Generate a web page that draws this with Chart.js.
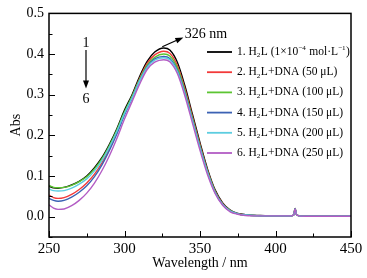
<!DOCTYPE html>
<html>
<head>
<meta charset="utf-8">
<script src="https://cdn.jsdelivr.net/npm/chart.js@4.4.0/dist/chart.umd.min.js"></script>
<style>
  html, body { margin: 0; padding: 0; background: #fff; }
  #wrap { width: 367px; height: 278px; }
</style>
</head>
<body>
<div id="wrap"><canvas id="chartCanva" width="367" height="278"></canvas></div>
<script>
// wavelength (nm) shared by all spectra
const wavelengths = [250,253,256,260,265,270,275,280,285,290,295,300,305,310,315,320,326,330,335,340,345,350,355,360,365,370,375,380,390,400,410,412,413,414,420,450];

const s1 = [0.075,0.071,0.070,0.072,0.078,0.087,0.100,0.120,0.145,0.178,0.217,0.262,0.300,0.345,0.382,0.405,0.415,0.410,0.380,0.322,0.252,0.182,0.117,0.066,0.034,0.016,0.008,0.005,0.003,0.002,0.002,0.004,0.020,0.004,0.001,0.001];
const s2 = [0.053,0.047,0.045,0.047,0.055,0.067,0.083,0.104,0.132,0.167,0.208,0.254,0.295,0.340,0.377,0.398,0.407,0.402,0.372,0.315,0.246,0.177,0.113,0.063,0.032,0.015,0.007,0.004,0.002,0.002,0.002,0.004,0.019,0.004,0.001,0.001];
const s3 = [0.077,0.072,0.071,0.072,0.077,0.086,0.098,0.117,0.142,0.175,0.214,0.258,0.296,0.338,0.373,0.392,0.400,0.395,0.366,0.310,0.242,0.174,0.111,0.062,0.031,0.015,0.007,0.004,0.002,0.002,0.002,0.004,0.019,0.004,0.001,0.001];
const s4 = [0.045,0.040,0.038,0.040,0.048,0.060,0.076,0.098,0.127,0.163,0.204,0.250,0.291,0.334,0.369,0.388,0.394,0.389,0.360,0.305,0.238,0.171,0.109,0.060,0.030,0.014,0.007,0.004,0.002,0.002,0.002,0.004,0.019,0.004,0.001,0.001];
const s5 = [0.068,0.064,0.063,0.064,0.070,0.080,0.093,0.112,0.138,0.171,0.210,0.254,0.292,0.334,0.367,0.385,0.391,0.386,0.357,0.302,0.236,0.169,0.108,0.059,0.030,0.014,0.007,0.004,0.002,0.002,0.002,0.004,0.019,0.004,0.001,0.001];
const s6 = [0.029,0.021,0.018,0.019,0.027,0.040,0.058,0.082,0.113,0.150,0.193,0.240,0.283,0.326,0.362,0.380,0.386,0.381,0.352,0.297,0.230,0.163,0.103,0.057,0.028,0.012,0.006,0.003,0.002,0.002,0.002,0.004,0.019,0.004,0.001,0.001];

// legend text, _x = subscript, ^{..} = superscript
const seriesLabels = [
  "1. H_2L (1×10^{−4} mol·L^{−1})",
  "2. H_2L+DNA (50 μL)",
  "3. H_2L+DNA (100 μL)",
  "4. H_2L+DNA (150 μL)",
  "5. H_2L+DNA (200 μL)",
  "6. H_2L+DNA (250 μL)"
];
const seriesColors = ["#000000", "#f23a3a", "#5cc532", "#3c62b4", "#5ccde0", "#b35cc4"];

const xTicks = [250, 300, 350, 400, 450];
const yTicks = [0.0, 0.1, 0.2, 0.3, 0.4, 0.5];

const serif = "'Liberation Serif','Times New Roman',serif";

function parseRich(str) {
  const parts = [];
  let i = 0, buf = "";
  while (i < str.length) {
    const c = str[i];
    if (c === "_" || c === "^") {
      if (buf) { parts.push({ t: buf }); buf = ""; }
      let txt;
      if (str[i + 1] === "{") {
        const end = str.indexOf("}", i);
        txt = str.slice(i + 2, end);
        i = end + 1;
      } else {
        txt = str[i + 1];
        i += 2;
      }
      parts.push({ t: txt, sub: c === "_", sup: c === "^" });
      continue;
    }
    buf += c;
    i++;
  }
  if (buf) parts.push({ t: buf });
  return parts;
}

function drawRich(ctx, str, x, y, size) {
  let cx = x;
  parseRich(str).forEach(p => {
    if (p.sub || p.sup) {
      ctx.font = (size * 0.62) + "px " + serif;
      ctx.fillText(p.t, cx, y + (p.sub ? size * 0.3 : -size * 0.35));
      cx += ctx.measureText(p.t).width + 0.5;
    } else {
      ctx.font = size + "px " + serif;
      ctx.fillText(p.t, cx, y);
      cx += ctx.measureText(p.t).width;
    }
  });
}

function arrow(ctx, x1, y1, x2, y2) {
  const a = Math.atan2(y2 - y1, x2 - x1);
  ctx.beginPath();
  ctx.moveTo(x1, y1);
  ctx.lineTo(x2 - 6 * Math.cos(a), y2 - 6 * Math.sin(a));
  ctx.stroke();
  ctx.beginPath();
  ctx.moveTo(x2, y2);
  ctx.lineTo(x2 - 8 * Math.cos(a) + 3 * Math.sin(a), y2 - 8 * Math.sin(a) - 3 * Math.cos(a));
  ctx.lineTo(x2 - 8 * Math.cos(a) - 3 * Math.sin(a), y2 - 8 * Math.sin(a) + 3 * Math.cos(a));
  ctx.closePath();
  ctx.fill();
}

const decor = {
  id: "decor",
  afterDraw(chart) {
    const ctx = chart.ctx;
    const a = chart.chartArea;
    const xs = chart.scales.x, ys = chart.scales.y;
    ctx.save();
    ctx.strokeStyle = "#000";
    ctx.fillStyle = "#000";

    // frame
    ctx.lineWidth = 1.5;
    ctx.strokeRect(a.left, a.top, a.right - a.left, a.bottom - a.top);

    // inward ticks
    ctx.lineWidth = 1;
    ctx.beginPath();
    for (let v = 250; v <= 450; v += 25) {
      const px = Math.round(xs.getPixelForValue(v)) + 0.5;
      const len = v % 50 === 0 ? 6 : 3.5;
      ctx.moveTo(px, a.bottom);
      ctx.lineTo(px, a.bottom - len);
    }
    for (let k = -1; k <= 10; k++) {
      const v = k * 0.05;
      const py = Math.round(ys.getPixelForValue(v)) + 0.5;
      const len = k % 2 === 0 ? 6 : 3.5;
      ctx.moveTo(a.left, py);
      ctx.lineTo(a.left + len, py);
    }
    ctx.stroke();

    // axis titles
    ctx.font = "14px " + serif;
    ctx.textAlign = "center";
    ctx.textBaseline = "middle";
    ctx.fillText("Wavelength / nm", (a.left + a.right) / 2, 263);
    ctx.save();
    ctx.translate(16, (a.top + a.bottom) / 2);
    ctx.rotate(-Math.PI / 2);
    ctx.fillText("Abs", 0, 0);
    ctx.restore();

    // peak label
    ctx.font = "14px " + serif;
    ctx.fillText("326 nm", xs.getPixelForValue(354), ys.getPixelForValue(0.449));
    ctx.lineWidth = 1.2;
    arrow(ctx, xs.getPixelForValue(325), ys.getPixelForValue(0.418),
               xs.getPixelForValue(339), ys.getPixelForValue(0.441));

    // 1 -> 6 arrow
    const ax = xs.getPixelForValue(274.5);
    ctx.fillText("1", ax, ys.getPixelForValue(0.427));
    arrow(ctx, ax, ys.getPixelForValue(0.41), ax, ys.getPixelForValue(0.315));
    ctx.fillText("6", ax, ys.getPixelForValue(0.288));

    // legend
    ctx.textAlign = "left";
    ctx.textBaseline = "middle";
    seriesLabels.forEach((lab, i) => {
      const ly = 52 + i * 20.2;
      ctx.strokeStyle = seriesColors[i];
      ctx.lineWidth = 1.8;
      ctx.beginPath();
      ctx.moveTo(207, ly);
      ctx.lineTo(232, ly);
      ctx.stroke();
      ctx.fillStyle = "#000";
      drawRich(ctx, lab, 237, ly, 11.5);
    });
    ctx.restore();
  }
};

const allSeries = [s1, s2, s3, s4, s5, s6];

const data = {
  datasets: allSeries.map((vals, i) => ({
    label: seriesLabels[i],
    data: wavelengths.map((w, j) => ({ x: w, y: vals[j] })),
    borderColor: seriesColors[i],
    borderWidth: 1.4,
    pointRadius: 0,
    cubicInterpolationMode: "monotone",
    fill: false,
    order: 6 - i
  }))
};

const config = {
  type: "line",
  data: data,
  options: {
    responsive: false,
    animation: false,
    layout: { padding: { top: 12, right: 16, left: 0, bottom: 0 } },
    plugins: { legend: { display: false }, tooltip: { enabled: false } },
    scales: {
      x: {
        type: "linear",
        min: 250, max: 450,
        grid: { display: false, drawTicks: false },
        border: { display: false },
        afterBuildTicks: s => { s.ticks = xTicks.map(v => ({ value: v })); },
        afterFit: s => { s.height = 41; },
        ticks: { color: "#000", padding: 3, maxRotation: 0, font: { family: serif, size: 15 } }
      },
      y: {
        min: -0.05, max: 0.5,
        grid: { display: false, drawTicks: false },
        border: { display: false },
        afterBuildTicks: s => { s.ticks = yTicks.map(v => ({ value: v })); },
        afterFit: s => { s.width = 49; },
        ticks: { color: "#000", padding: 5, font: { family: serif, size: 14 },
                 callback: v => v.toFixed(1) }
      }
    }
  },
  plugins: [decor]
};

const myChart = new Chart(document.getElementById("chartCanva"), config);
</script>
</body>
</html>
